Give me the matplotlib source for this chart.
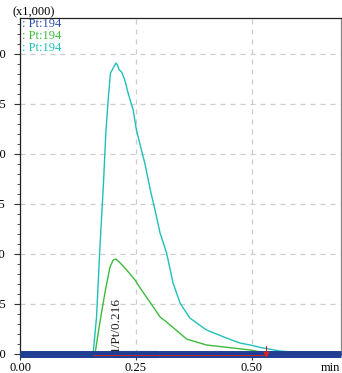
import numpy as np
import matplotlib.pyplot as plt
from matplotlib.ticker import MultipleLocator, FixedLocator

plt.rcParams['font.family'] = ['Liberation Serif', 'DejaVu Serif']

# chromatogram traces, time in min, intensity in x1,000
t_teal = [0.0, 0.150, 0.158, 0.165, 0.172, 0.180, 0.185, 0.190, 0.195, 0.201, 0.207,
          0.210, 0.214, 0.219, 0.226, 0.233, 0.244, 0.251, 0.259, 0.269, 0.280,
          0.291, 0.302, 0.316, 0.330, 0.345, 0.366, 0.402, 0.445, 0.474, 0.496,
          0.524, 0.560, 0.588, 0.620, 0.692]
v_teal = [0.0, 0.0, 0.02, 0.37, 1.04, 1.71, 2.21, 2.54, 2.81, 2.86, 2.91,
          2.89, 2.84, 2.82, 2.74, 2.61, 2.44, 2.24, 2.09, 1.91, 1.66,
          1.44, 1.21, 1.01, 0.71, 0.51, 0.36, 0.24, 0.16, 0.11, 0.09,
          0.06, 0.03, 0.02, 0.0, 0.0]

t_green = [0.0, 0.155, 0.162, 0.172, 0.183, 0.194, 0.201, 0.207, 0.216, 0.230,
           0.248, 0.262, 0.280, 0.302, 0.316, 0.359, 0.402, 0.459, 0.496, 0.530,
           0.560, 0.692]
v_green = [0.0, 0.0, 0.01, 0.31, 0.61, 0.87, 0.94, 0.95, 0.91, 0.84,
           0.74, 0.64, 0.52, 0.37, 0.32, 0.15, 0.09, 0.06, 0.04, 0.01,
           0.0, 0.0]

t_blue = [0.0, 0.692]
v_blue = [0.0, 0.0]

legend_labels = [': Pt:194', ': Pt:194', ': Pt:194']
colors = ['#2a4fa8', '#3dbb3d', '#1fc0b8']

peak_start, peak_end = 0.158, 0.530
peak_label = '1/Pt/0.216'
peak_rt = 0.216

fig = plt.figure(figsize=(3.42, 3.73), dpi=100)
ax = fig.add_axes([20 / 342, 19 / 373, 321 / 342, 336 / 373])

ax.set_xlim(0, 0.692)
ax.set_ylim(0, 3.36)

ax.xaxis.set_major_locator(FixedLocator([0.0, 0.25, 0.5]))
ax.xaxis.set_minor_locator(MultipleLocator(0.05))
ax.yaxis.set_major_locator(MultipleLocator(0.5))
ax.yaxis.set_minor_locator(MultipleLocator(0.1))
ax.set_xticklabels(['0.00', '0.25', '0.50'])
ax.set_yticks(np.arange(0, 3.01, 0.5))
ax.set_yticklabels(['%.1f' % v for v in np.arange(0, 3.01, 0.5)])

ax.tick_params(axis='both', which='major', direction='out', length=4, width=0.8,
               labelsize=9, color='#333333')
ax.tick_params(axis='both', which='minor', direction='out', length=2, width=0.6,
               color='#333333')
ax.tick_params(axis='y', pad=6)
ax.tick_params(axis='x', pad=2)

ax.grid(True, which='major', color='#cccccc', linestyle=(0, (4, 4)), linewidth=0.9)
ax.set_axisbelow(True)
for s in ax.spines.values():
    s.set_linewidth(0.9)
    s.set_color('#222222')
ax.spines['right'].set_color('#888888')

# traces
ax.plot(t_green, v_green, color=colors[1], lw=1.0, zorder=3)
ax.plot(t_teal, v_teal, color=colors[2], lw=1.0, zorder=3)

# peak highlight, baseline and end marker
ax.fill_between([0.20, 0.295], -0.03, 0.03, color='#8fb0e0', alpha=0.6, zorder=3,
                clip_on=False)
ax.plot(t_blue, v_blue, color='#1f3f95', lw=5, zorder=4, clip_on=False,
        solid_capstyle='butt')
ax.axhline(0, color='#111111', lw=0.8, zorder=5)
ax.plot([peak_start, peak_end], [-0.012, -0.012], color='#e02020', lw=0.6, zorder=6,
        clip_on=False)
ax.plot([peak_end, peak_end], [-0.012, 0.08], color='#e02020', lw=0.8, zorder=6,
        clip_on=False)
ax.plot(peak_end, 0.0, marker='v', color='#e02020', markersize=3, zorder=6,
        clip_on=False)

ax.text(peak_rt - 0.01, 0.02, peak_label, rotation=90, fontsize=9.5, ha='center',
        va='bottom', color='#222222', zorder=4)

# legend-like labels
for i, (lab, c) in enumerate(zip(legend_labels, colors)):
    fig.text(22 / 342, 1 - (24 + 12 * i) / 373, lab, color=c, fontsize=9,
             ha='left', va='center')

fig.text(34 / 342, 1 - 12 / 373, '(x1,000)', fontsize=9, ha='center', va='center')
fig.text(330 / 342, 1 - 368 / 373, 'min', fontsize=9, ha='center', va='center')

fig.savefig('out.png', dpi=100)
